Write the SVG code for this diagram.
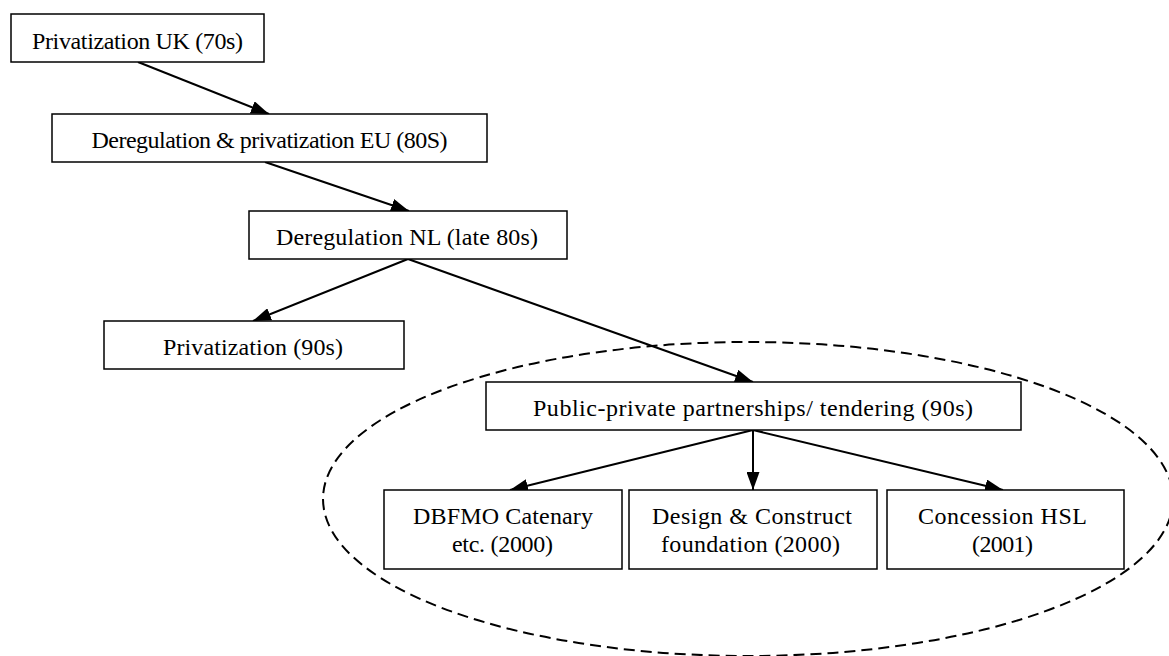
<svg xmlns="http://www.w3.org/2000/svg" width="1169" height="656" viewBox="0 0 1169 656">
<style>
.box{fill:#fff;stroke:#000;stroke-width:1.5}
.lbl{font-family:"Liberation Serif","Times New Roman",serif;font-size:24px;fill:#000;text-anchor:middle}
.con{stroke:#000;stroke-width:2;fill:none;marker-end:url(#ah)}
</style>
<defs>
<marker id="ah" viewBox="0 0 18 13" refX="18" refY="6.5" markerWidth="18" markerHeight="13" markerUnits="userSpaceOnUse" orient="auto">
<path d="M0,0 L18,6.5 L0,13 z" fill="#000"/>
</marker>
</defs>
<rect width="1169" height="656" fill="#fff"/>
<ellipse id="group-ellipse" cx="748" cy="499" rx="425" ry="157" fill="none" stroke="#000" stroke-width="2" stroke-dasharray="11,6"/>
<g id="connectors">
<line class="con" x1="138" y1="62" x2="269" y2="114"/>
<line class="con" x1="265" y1="162" x2="409" y2="211"/>
<line class="con" x1="408" y1="259" x2="253" y2="321"/>
<line class="con" x1="408" y1="259" x2="753" y2="382"/>
<line class="con" x1="753" y1="430" x2="510" y2="490"/>
<line class="con" x1="753" y1="430" x2="753" y2="490"/>
<line class="con" x1="753" y1="430" x2="1003" y2="490"/>
</g>
<g id="n1"><rect class="box" x="11" y="14" width="253" height="48"/><text class="lbl" x="137.5" y="49" textLength="211">Privatization UK (70s)</text></g>
<g id="n2"><rect class="box" x="52" y="114" width="435" height="48"/><text class="lbl" x="269.5" y="148" textLength="356">Deregulation &amp; privatization EU (80S)</text></g>
<g id="n3"><rect class="box" x="249" y="211" width="318" height="48"/><text class="lbl" x="407" y="245" textLength="262">Deregulation NL (late 80s)</text></g>
<g id="n4"><rect class="box" x="104" y="321" width="300" height="48"/><text class="lbl" x="253" y="355" textLength="180">Privatization (90s)</text></g>
<g id="n5"><rect class="box" x="486" y="382" width="535" height="48"/><text class="lbl" x="753" y="416" textLength="440">Public-private partnerships/ tendering (90s)</text></g>
<g id="n6"><rect class="box" x="384" y="490" width="238" height="79"/><text class="lbl" x="503" y="524" textLength="180">DBFMO Catenary</text><text class="lbl" x="502.5" y="552" textLength="101">etc. (2000)</text></g>
<g id="n7"><rect class="box" x="629" y="490" width="248" height="79"/><text class="lbl" x="752" y="524" textLength="200">Design &amp; Construct</text><text class="lbl" x="750.5" y="552" textLength="179">foundation (2000)</text></g>
<g id="n8"><rect class="box" x="887" y="490" width="237" height="79"/><text class="lbl" x="1002.5" y="524" textLength="169">Concession HSL</text><text class="lbl" x="1002.5" y="552" textLength="61">(2001)</text></g>
</svg>
